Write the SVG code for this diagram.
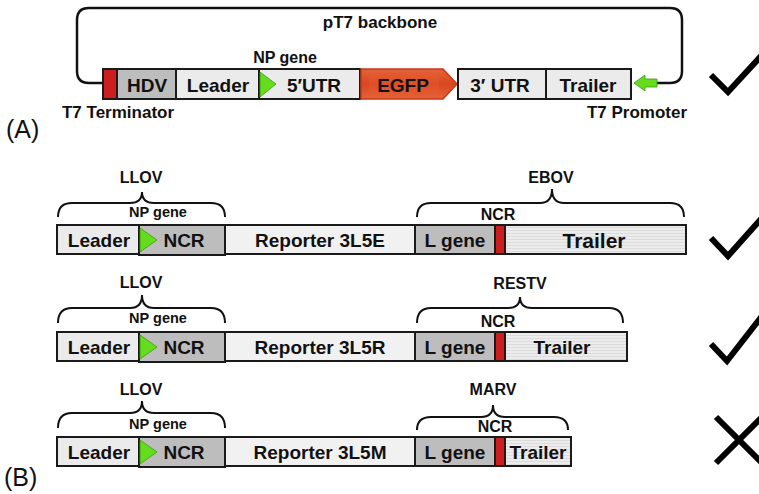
<svg xmlns="http://www.w3.org/2000/svg" width="759" height="494" viewBox="0 0 759 494">
<defs>
<linearGradient id="egfp" x1="0" y1="0" x2="0" y2="1">
<stop offset="0" stop-color="#e4643a"/><stop offset="0.5" stop-color="#d9461f"/><stop offset="1" stop-color="#e4643a"/>
</linearGradient>
<pattern id="stripe" width="4" height="3" patternUnits="userSpaceOnUse">
<rect width="4" height="3" fill="#ececec"/><rect y="2" width="4" height="1" fill="#dcdcdc"/>
</pattern>
</defs>
<style>
.box{stroke:#1a1a1a;stroke-width:2}
.lt{fill:#ebebeb}.dk{fill:#bdbdbd}.rp{fill:#f1f1f1}.rd{fill:#cc1e1e}.tr{fill:url(#stripe)}
.g{fill:#66dd1c;stroke:#3a9a10;stroke-width:0.8}
.bt{font-family:"Liberation Sans",Arial,sans-serif;font-weight:bold;fill:#111;text-anchor:middle}
.lab{font-family:"Liberation Sans",Arial,sans-serif;font-weight:bold;fill:#111;text-anchor:middle;font-size:16px}
.sm{font-size:14.5px}
.pl{font-family:"Liberation Sans",Arial,sans-serif;font-size:25px;fill:#111}
.brace{fill:none;stroke:#111;stroke-width:2}
.mark{fill:none;stroke:#000;stroke-width:6}
.b19{font-size:19px}
</style>

<!-- Panel A -->
<g id="connectors">
<path d="M103,83 H89 Q77,83 77,71 V20 Q77,8 89,8 H670 Q682,8 682,20 V71 Q682,83 670,83 H656" fill="none" stroke="#111" stroke-width="2.5"/>
</g>
<text class="lab" x="380" y="28" style="font-size:17px">pT7 backbone</text>
<text class="lab" x="285" y="63">NP gene</text>
<g id="t7term"><rect class="box rd" x="103" y="69" width="14" height="30"/></g>
<g id="hdv"><rect class="box dk" x="117" y="69" width="59" height="30"/><text class="bt b19" x="147" y="92">HDV</text></g>
<g id="leaderA"><rect class="box lt" x="176" y="69" width="83" height="30"/><text class="bt b19" x="218" y="92">Leader</text></g>
<g id="utr5"><rect class="box lt" x="259" y="69" width="101" height="30"/><polygon class="g" points="260,72 276,84 260,97"/><text class="bt b19" x="314" y="92">5′UTR</text></g>
<g id="egfp"><polygon points="361,69 443,69 457,84 443,99 361,99" fill="url(#egfp)" stroke="#c8381a" stroke-width="1.5"/><rect x="369" y="75" width="70" height="18" fill="#e65a30" opacity="0.5"/><text class="bt b19" x="403" y="92">EGFP</text></g>
<g id="utr3"><rect class="box lt" x="458" y="69" width="88" height="30"/><text class="bt b19" x="500" y="92">3′ UTR</text></g>
<g id="trailerA"><rect class="box lt" x="546" y="69" width="85" height="30"/><text class="bt b19" x="588" y="92">Trailer</text></g>
<g id="t7prom"><polygon class="g" points="634,83 645,75 645,79 657,79 657,87 645,87 645,91"/></g>
<text class="lab" x="118" y="118" style="font-size:17px">T7 Terminator</text>
<text class="lab" x="637" y="118" style="font-size:17px">T7 Promoter</text>
<text class="pl" x="6" y="138">(A)</text>
<polyline class="mark" points="711,75 728,92 762,55"/>

<!-- Row 1 -->
<g id="row1">
<path class="brace" d="M58,217 Q58,203 72,203 H130 Q142,203 142,192 Q142,203 154,203 H211 Q225,203 225,217"/>
<text class="lab" x="141" y="183">LLOV</text>
<text class="lab sm" x="158" y="217">NP gene</text>
<path class="brace" d="M417,217 Q417,203 431,203 H540 Q552,203 552,189 Q552,203 564,203 H670 Q684,203 684,217"/>
<text class="lab" x="551" y="183">EBOV</text>
<text class="lab" x="498" y="220">NCR</text>
<rect class="box lt" x="57" y="225" width="82" height="29"/><text class="bt b19" x="99" y="247">Leader</text>
<rect class="box dk" x="139" y="225" width="86" height="30"/><polygon class="g" points="140,228 157,240 140,252"/><text class="bt b19" x="184" y="247">NCR</text>
<rect class="box rp" x="225" y="225" width="190" height="29"/><text class="bt b19" x="320" y="247">Reporter 3L5E</text>
<rect class="box dk" x="415" y="225" width="80" height="29"/><text class="bt b19" x="455" y="247">L gene</text>
<rect class="box rd" x="495" y="225" width="10" height="29"/>
<rect class="box tr" x="505" y="225" width="181" height="29"/><text class="bt" x="594" y="248" style="font-size:21px">Trailer</text>
</g>
<polyline class="mark" points="711,238 728,256 762,218"/>

<!-- Row 2 -->
<g id="row2">
<path class="brace" d="M58,323 Q58,308 72,308 H130 Q142,308 142,295 Q142,308 154,308 H211 Q225,308 225,323"/>
<text class="lab" x="141" y="288">LLOV</text>
<text class="lab sm" x="158" y="323">NP gene</text>
<path class="brace" d="M417,323 Q417,308 431,308 H508 Q520,308 520,297 Q520,308 532,308 H609 Q623,308 623,323"/>
<text class="lab" x="520" y="289">RESTV</text>
<text class="lab" x="498" y="327">NCR</text>
<rect class="box lt" x="57" y="332" width="82" height="29"/><text class="bt b19" x="99" y="354">Leader</text>
<rect class="box dk" x="139" y="332" width="86" height="30"/><polygon class="g" points="140,335 157,347 140,359"/><text class="bt b19" x="184" y="354">NCR</text>
<rect class="box rp" x="225" y="332" width="190" height="29"/><text class="bt b19" x="320" y="354">Reporter 3L5R</text>
<rect class="box dk" x="415" y="332" width="80" height="29"/><text class="bt b19" x="455" y="354">L gene</text>
<rect class="box rd" x="495" y="332" width="10" height="29"/>
<rect class="box tr" x="505" y="332" width="122" height="29"/><text class="bt b19" x="562" y="354">Trailer</text>
</g>
<polyline class="mark" points="711,344 727,361 762,316"/>

<!-- Row 3 -->
<g id="row3">
<path class="brace" d="M58,428 Q58,413 72,413 H130 Q142,413 142,401 Q142,413 154,413 H211 Q225,413 225,428"/>
<text class="lab" x="141" y="395">LLOV</text>
<text class="lab sm" x="158" y="429">NP gene</text>
<path class="brace" d="M417,430 Q417,417 431,417 H481 Q493,417 493,405 Q493,417 505,417 H554 Q568,417 568,430"/>
<text class="lab" x="493" y="395">MARV</text>
<text class="lab" x="495" y="432">NCR</text>
<rect class="box lt" x="57" y="437" width="82" height="29"/><text class="bt b19" x="99" y="459">Leader</text>
<rect class="box dk" x="139" y="437" width="86" height="30"/><polygon class="g" points="140,440 157,452 140,464"/><text class="bt b19" x="184" y="459">NCR</text>
<rect class="box rp" x="225" y="437" width="190" height="29"/><text class="bt b19" x="320" y="459">Reporter 3L5M</text>
<rect class="box dk" x="415" y="437" width="80" height="29"/><text class="bt b19" x="455" y="459">L gene</text>
<rect class="box rd" x="495" y="437" width="10" height="29"/>
<rect class="box tr" x="505" y="437" width="66" height="29"/><text class="bt b19" x="538" y="459">Trailer</text>
</g>
<path class="mark" d="M716,417 L762,463 M762,417 L716,463"/>
<text class="pl" x="4" y="486">(B)</text>
</svg>
